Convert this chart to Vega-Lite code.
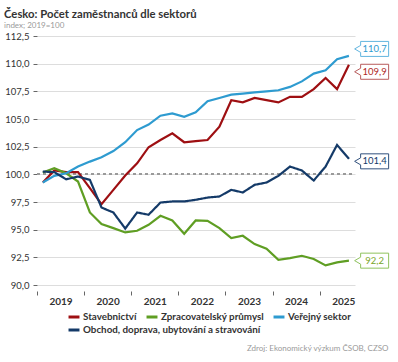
{
  "$schema": "https://vega.github.io/schema/vega-lite/v6.json",
  "width": 318,
  "height": 249,
  "autosize": {"type": "none"},
  "padding": {"left": 37, "top": 36, "right": 43, "bottom": 77},
  "background": "white",
  "title": {
    "text": "Česko: Počet zaměstnanců dle sektorů",
    "subtitle": "index; 2019=100",
    "anchor": "start",
    "frame": "group",
    "dx": -33,
    "offset": 1,
    "fontSize": 11.3,
    "fontWeight": "bold",
    "color": "#333333",
    "subtitleFontSize": 8,
    "subtitleColor": "#9a9a9a",
    "subtitlePadding": 2
  },
  "data": {
    "values": [
      {"date": "2019-02-15", "Stavebnictví": 99.26, "Zpracovatelský průmysl": 100.17, "Veřejný sektor": 99.26, "Obchod, doprava, ubytování a stravování": 100.25},
      {"date": "2019-05-15", "Stavebnictví": 100.35, "Zpracovatelský průmysl": 100.55, "Veřejný sektor": 99.86, "Obchod, doprava, ubytování a stravování": 100.2},
      {"date": "2019-08-15", "Stavebnictví": 100.2, "Zpracovatelský průmysl": 100.1, "Veřejný sektor": 100.1, "Obchod, doprava, ubytování a stravování": 99.55},
      {"date": "2019-11-15", "Stavebnictví": 100.2, "Zpracovatelský průmysl": 99.35, "Veřejný sektor": 100.7, "Obchod, doprava, ubytování a stravování": 99.8},
      {"date": "2020-02-15", "Stavebnictví": 98.75, "Zpracovatelský průmysl": 96.55, "Veřejný sektor": 101.15, "Obchod, doprava, ubytování a stravování": 99.5},
      {"date": "2020-05-15", "Stavebnictví": 97.3, "Zpracovatelský průmysl": 95.5, "Veřejný sektor": 101.55, "Obchod, doprava, ubytování a stravování": 97.0},
      {"date": "2020-08-15", "Stavebnictví": 98.6, "Zpracovatelský průmysl": 95.14, "Veřejný sektor": 102.1, "Obchod, doprava, ubytování a stravování": 96.55},
      {"date": "2020-11-15", "Stavebnictví": 99.9, "Zpracovatelský průmysl": 94.75, "Veřejný sektor": 102.9, "Obchod, doprava, ubytování a stravování": 95.1},
      {"date": "2021-02-15", "Stavebnictví": 101.0, "Zpracovatelský průmysl": 94.9, "Veřejný sektor": 104.0, "Obchod, doprava, ubytování a stravování": 96.55},
      {"date": "2021-05-15", "Stavebnictví": 102.45, "Zpracovatelský průmysl": 95.44, "Veřejný sektor": 104.5, "Obchod, doprava, ubytování a stravování": 96.35},
      {"date": "2021-08-15", "Stavebnictví": 103.1, "Zpracovatelský průmysl": 96.25, "Veřejný sektor": 105.3, "Obchod, doprava, ubytování a stravování": 97.45},
      {"date": "2021-11-15", "Stavebnictví": 103.7, "Zpracovatelský průmysl": 95.83, "Veřejný sektor": 105.5, "Obchod, doprava, ubytování a stravování": 97.55},
      {"date": "2022-02-15", "Stavebnictví": 102.9, "Zpracovatelský průmysl": 94.63, "Veřejný sektor": 105.2, "Obchod, doprava, ubytování a stravování": 97.55},
      {"date": "2022-05-15", "Stavebnictví": 103.0, "Zpracovatelský průmysl": 95.83, "Veřejný sektor": 105.6, "Obchod, doprava, ubytování a stravování": 97.7},
      {"date": "2022-08-15", "Stavebnictví": 103.1, "Zpracovatelský průmysl": 95.8, "Veřejný sektor": 106.6, "Obchod, doprava, ubytování a stravování": 97.9},
      {"date": "2022-11-15", "Stavebnictví": 104.3, "Zpracovatelský průmysl": 95.14, "Veřejný sektor": 106.9, "Obchod, doprava, ubytování a stravování": 98.0},
      {"date": "2023-02-15", "Stavebnictví": 106.7, "Zpracovatelský průmysl": 94.24, "Veřejný sektor": 107.2, "Obchod, doprava, ubytování a stravování": 98.6},
      {"date": "2023-05-15", "Stavebnictví": 106.5, "Zpracovatelský průmysl": 94.45, "Veřejný sektor": 107.3, "Obchod, doprava, ubytování a stravování": 98.36},
      {"date": "2023-08-15", "Stavebnictví": 106.9, "Zpracovatelský průmysl": 93.7, "Veřejný sektor": 107.4, "Obchod, doprava, ubytování a stravování": 99.05},
      {"date": "2023-11-15", "Stavebnictví": 106.7, "Zpracovatelský průmysl": 93.28, "Veřejný sektor": 107.5, "Obchod, doprava, ubytování a stravování": 99.26},
      {"date": "2024-02-15", "Stavebnictví": 106.5, "Zpracovatelský průmysl": 92.28, "Veřejný sektor": 107.6, "Obchod, doprava, ubytování a stravování": 99.86},
      {"date": "2024-05-15", "Stavebnictví": 107.0, "Zpracovatelský průmysl": 92.43, "Veřejný sektor": 107.9, "Obchod, doprava, ubytování a stravování": 100.7},
      {"date": "2024-08-15", "Stavebnictví": 107.0, "Zpracovatelský průmysl": 92.64, "Veřejný sektor": 108.4, "Obchod, doprava, ubytování a stravování": 100.35},
      {"date": "2024-11-15", "Stavebnictví": 107.7, "Zpracovatelský průmysl": 92.35, "Veřejný sektor": 109.1, "Obchod, doprava, ubytování a stravování": 99.44},
      {"date": "2025-02-15", "Stavebnictví": 108.7, "Zpracovatelský průmysl": 91.77, "Veřejný sektor": 109.4, "Obchod, doprava, ubytování a stravování": 100.7},
      {"date": "2025-05-15", "Stavebnictví": 107.7, "Zpracovatelský průmysl": 92.04, "Veřejný sektor": 110.4, "Obchod, doprava, ubytování a stravování": 102.66},
      {"date": "2025-08-15", "Stavebnictví": 109.9, "Zpracovatelský průmysl": 92.2, "Veřejný sektor": 110.7, "Obchod, doprava, ubytování a stravování": 101.4}
    ],
    "format": {"parse": {"date": "date"}}
  },
  "transform": [
    {"fold": ["Stavebnictví", "Zpracovatelský průmysl", "Veřejný sektor", "Obchod, doprava, ubytování a stravování"], "as": ["s", "v"]}
  ],
  "encoding": {
    "x": {
      "field": "date",
      "type": "temporal",
      "scale": {"domain": [{"year": 2019, "month": 1, "date": 1}, {"year": 2025, "month": 10, "date": 1}]},
      "axis": {
        "values": [{"year": 2019}, {"year": 2020}, {"year": 2021}, {"year": 2022}, {"year": 2023}, {"year": 2024}, {"year": 2025}],
        "format": "%Y",
        "grid": false,
        "domain": false,
        "offset": 6,
        "tickSize": 4,
        "tickColor": "#666666",
        "labelOffset": 23.5,
        "labelFlush": false,
        "labelAlign": "center",
        "labelOverlap": false,
        "labelFontSize": 10,
        "labelFontWeight": "bold",
        "labelColor": "#333333",
        "labelPadding": 1,
        "title": "Zdroj: Ekonomický výzkum ČSOB, CZSO",
        "titleFontSize": 8,
        "titleFontWeight": "normal",
        "titleColor": "#9a9a9a",
        "titleAnchor": "end",
        "titleAlign": "right",
        "titleBaseline": "alphabetic",
        "titleX": 351,
        "titleY": 59
      }
    },
    "y": {
      "field": "v",
      "type": "quantitative",
      "scale": {"domain": [90, 112.5], "zero": false, "nice": false},
      "axis": {
        "values": [90, 92.5, 95, 97.5, 100, 102.5, 105, 107.5, 110, 112.5],
        "format": ".1f",
        "labelExpr": "replace(datum.label, '.', ',')",
        "grid": true,
        "gridColor": "#dddddd",
        "gridWidth": 1,
        "domain": false,
        "tickSize": 4,
        "tickColor": "#666666",
        "labelFontSize": 9.5,
        "labelColor": "#333333",
        "labelPadding": 4,
        "title": null
      }
    }
  },
  "layer": [
    {
      "mark": {"type": "rule", "color": "#9a9a9a", "strokeDash": [3, 3], "strokeWidth": 1.5},
      "encoding": {"y": {"datum": 100}, "x": {"value": 0}, "x2": {"value": 318}}
    },
    {
      "transform": [{"filter": "datum.s !== 'Obchod, doprava, ubytování a stravování'"}],
      "mark": {"type": "line", "strokeWidth": 2.2},
      "encoding": {
        "color": {
          "field": "s",
          "type": "nominal",
          "scale": {
            "domain": ["Stavebnictví", "Zpracovatelský průmysl", "Veřejný sektor"],
            "range": ["#9e0f12", "#5f9e23", "#2e9bd0"]
          },
          "legend": {
            "orient": "none",
            "legendX": 30,
            "legendY": 274,
            "direction": "horizontal",
            "title": null,
            "symbolType": "stroke",
            "symbolStrokeWidth": 3,
            "symbolSize": 120,
            "labelFontSize": 9.8,
            "labelFontWeight": "bold",
            "labelColor": "#333333",
            "labelOffset": 2,
            "columnPadding": 3,
            "labelLimit": 400
          }
        }
      }
    },
    {
      "transform": [{"filter": "datum.s === 'Obchod, doprava, ubytování a stravování'"}],
      "mark": {"type": "line", "strokeWidth": 2.2, "color": "#143a68"},
      "encoding": {
        "strokeDash": {
          "field": "s",
          "type": "nominal",
          "scale": {"domain": ["Obchod, doprava, ubytování a stravování"], "range": [[1, 0]]},
          "legend": {
            "orient": "none",
            "legendX": 30,
            "legendY": 287,
            "direction": "horizontal",
            "title": null,
            "symbolType": "stroke",
            "symbolStrokeWidth": 3,
            "symbolSize": 120,
            "symbolStrokeColor": "#143a68",
            "labelFontSize": 9.8,
            "labelFontWeight": "bold",
            "labelColor": "#333333",
            "labelOffset": 2,
            "labelLimit": 400
          }
        }
      }
    },
    {
      "transform": [{"filter": "utcyear(datum.date) == 2025 && utcmonth(datum.date) == 7"}],
      "mark": {
        "type": "point",
        "shape": "M -0.7 -0.375 L 0.7 -0.375 L 0.7 0.375 L -0.7 0.375 L -0.7 0.175 L -1 0 L -0.7 -0.175 Z",
        "size": 1600,
        "filled": false,
        "fill": "white",
        "fillOpacity": 1,
        "strokeWidth": 1,
        "opacity": 1,
        "xOffset": 25.7,
        "yOffset": {"expr": "datum.s === 'Veřejný sektor' ? -7 : datum.s === 'Stavebnictví' ? 7 : datum.s === 'Obchod, doprava, ubytování a stravování' ? 2.5 : 0"}
      },
      "encoding": {
        "stroke": {
          "field": "s",
          "type": "nominal",
          "scale": {
            "domain": ["Stavebnictví", "Zpracovatelský průmysl", "Veřejný sektor", "Obchod, doprava, ubytování a stravování"],
            "range": ["#b85c5c", "#8fc25e", "#62b5df", "#30507c"]
          },
          "legend": null
        }
      }
    },
    {
      "transform": [
        {"filter": "utcyear(datum.date) == 2025 && utcmonth(datum.date) == 7"},
        {"calculate": "replace(format(datum.v, '.1f'), '.', ',')", "as": "lab"}
      ],
      "mark": {
        "type": "text",
        "fontSize": 9.5,
        "align": "center",
        "baseline": "middle",
        "xOffset": 25.7,
        "yOffset": {"expr": "datum.s === 'Veřejný sektor' ? -7 : datum.s === 'Stavebnictví' ? 7 : datum.s === 'Obchod, doprava, ubytování a stravování' ? 2.5 : 0"}
      },
      "encoding": {
        "text": {"field": "lab", "type": "nominal"},
        "fill": {
          "field": "s",
          "type": "nominal",
          "scale": {
            "domain": ["Stavebnictví", "Zpracovatelský průmysl", "Veřejný sektor", "Obchod, doprava, ubytování a stravování"],
            "range": ["#b0281e", "#7aa62a", "#2e9bd0", "#143a68"]
          },
          "legend": null
        }
      }
    }
  ],
  "config": {
    "font": "Lato",
    "view": {"stroke": null}
  }
}
